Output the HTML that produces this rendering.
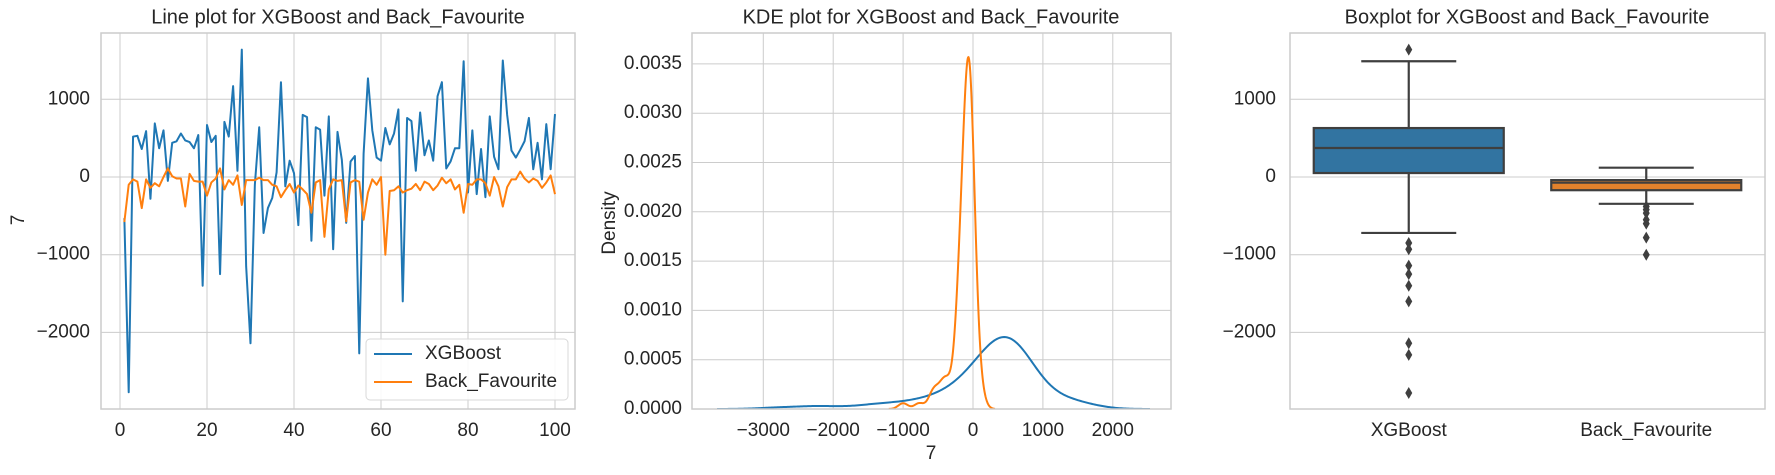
<!DOCTYPE html>
<html><head><meta charset="utf-8"><style>
html,body{margin:0;padding:0;background:#fff}
svg{display:block;font-family:"Liberation Sans",sans-serif}
</style></head><body>
<svg id="fig" width="1775" height="475" viewBox="0 0 1775 475" xmlns="http://www.w3.org/2000/svg"></svg>
<script>
const xgb=[-530,-2770,520,530,360,590,-280,690,370,600,-50,440,460,560,470,450,370,540,-1400,670,450,530,-1250,710,520,1170,80,1640,-1150,-2140,-100,640,-720,-400,-270,60,1220,-120,210,50,-620,800,770,-820,640,610,-240,780,-930,580,220,-590,200,270,-2270,300,1270,600,250,210,630,420,560,870,-1600,760,720,80,830,280,470,210,1040,1220,110,200,370,370,1490,-200,600,-220,360,-260,780,260,100,1500,800,340,250,350,460,760,100,440,-30,680,100,810];
const bf=[-580,-100,-30,-60,-400,-30,-140,-80,-120,0,110,10,-20,-20,-380,40,-50,-60,-60,-240,-70,-20,110,-160,-40,-100,20,-360,-40,-40,-40,-10,-40,-40,-100,-120,-260,-170,-90,-200,-110,-160,-220,-460,-70,-40,-770,-160,-30,-50,-40,-570,-70,-40,-60,-550,-200,-30,-100,0,-1000,-180,-170,-120,-200,-170,-150,-90,-170,-60,-90,-170,-110,-10,-80,-30,-160,-100,-460,-90,-100,-30,-30,-80,-240,0,-120,-380,-130,-30,-30,70,-20,-70,-20,-50,-140,-70,20,-220];
const seriesNames=["XGBoost","Back_Favourite"];
const lineXTicks=[0,20,40,60,80,100];
const valueTicks=[-2000,-1000,0,1000];
const kdeXTicks=[-3000,-2000,-1000,0,1000,2000];
const kdeYTicks=[0,0.0005,0.001,0.0015,0.002,0.0025,0.003,0.0035];
const xgbBox={q1:51,med:373,q3:630,lo:-720,hi:1490};
const bfBox={q1:-170,med:-73,q3:-40,lo:-345,hi:120};
const xgbOut=[1640,-850,-930,-1140,-1250,-1400,-1600,-2140,-2290,-2780];
const bfOut=[-380,-420,-465,-550,-600,-780,-1000];

const NS="http://www.w3.org/2000/svg";
const svg=document.getElementById('fig');
const BLUE="#1f77b4",ORANGE="#ff7f0e",GRID="#cccccc",TXT="#262626";
const FS=19,TFS=20;
function mk(tag,attrs,parent){const e=document.createElementNS(NS,tag);for(const k in attrs)e.setAttribute(k,attrs[k]);(parent||svg).appendChild(e);return e;}
function txt(s,x,y,anchor,size,parent){const t=mk('text',{x:x,y:y,'text-anchor':anchor,'font-size':size,fill:TXT,'dominant-baseline':'middle'},parent);t.textContent=s;return t;}
function fmt(v,d){return (v<0?'\u2212':'')+Math.abs(v).toFixed(d);}

const vY=v=>177-v*0.0777;
// ---------- Panel 1 ----------
const P1={l:101,r:575,t:33,b:409};
const lx=i=>120+i*4.35;
const g1=mk('g',{});


lineXTicks.forEach(t=>{mk('line',{x1:lx(t),x2:lx(t),y1:P1.t,y2:P1.b,stroke:GRID,'stroke-width':1},g1);
 const l=txt(String(t),lx(t),431,'middle',FS,g1);});
valueTicks.forEach(v=>{mk('line',{x1:P1.l,x2:P1.r,y1:vY(v),y2:vY(v),stroke:GRID,'stroke-width':1},g1);
 const l=txt(fmt(v,0),90,vY(v),'end',FS,g1);});
[[xgb,BLUE,'xgboost-line'],[bf,ORANGE,'back-favourite-line']].forEach(([d,c,n])=>{
 const p=mk('polyline',{points:d.map((v,i)=>lx(i+1)+','+vY(v)).join(' '),fill:'none',stroke:c,'stroke-width':2,'stroke-linejoin':'round'},g1);
 });
mk('rect',{x:P1.l,y:P1.t,width:P1.r-P1.l,height:P1.b-P1.t,fill:'none',stroke:GRID,'stroke-width':1.5},g1);
const t1=txt('Line plot for XGBoost and Back_Favourite',338,18,'middle',TFS,g1);
const yl1=txt('7',0,0,'middle',FS,g1);yl1.setAttribute('transform','translate(19,220) rotate(-90)');
const leg=mk('g',{},g1);
mk('rect',{x:366,y:339,width:202,height:61,rx:4,fill:'#fff','fill-opacity':0.85,stroke:'#d8d8d8'},leg);
seriesNames.forEach((n,i)=>{const y=354+i*28;
 mk('line',{x1:374,x2:412,y1:y,y2:y,stroke:i?ORANGE:BLUE,'stroke-width':2},leg);
 const e=txt(n,425,y,'start',FS,leg);});

// ---------- Panel 2 (KDE) ----------
const P2={l:692,r:1171,t:33,b:409};
const kx=v=>973+v*0.0699;
const ky=d=>409-d*98600;
const g2=mk('g',{});


kdeXTicks.forEach(t=>{mk('line',{x1:kx(t),x2:kx(t),y1:P2.t,y2:P2.b,stroke:GRID},g2);
 const l=txt(fmt(t,0),kx(t),431,'middle',FS,g2);});
kdeYTicks.forEach(t=>{mk('line',{x1:P2.l,x2:P2.r,y1:ky(t),y2:ky(t),stroke:GRID},g2);
 const l=txt(t.toFixed(4),682,ky(t),'end',FS,g2);});
function kde(d){const n=d.length,m=d.reduce((a,b)=>a+b)/n;const sd=Math.sqrt(d.reduce((a,b)=>a+(b-m)*(b-m),0)/(n-1));
 const bw=sd*Math.pow(n,-0.2);const lo=Math.min(...d)-3*bw,hi=Math.max(...d)+3*bw;const pts=[];
 for(let k=0;k<=300;k++){const x=lo+(hi-lo)*k/300;let s=0;for(const v of d){const z=(x-v)/bw;s+=Math.exp(-0.5*z*z);}pts.push([x,s/(n*bw*Math.sqrt(2*Math.PI))]);}return pts;}
const cp=mk('clipPath',{id:'c2'},g2);
mk('rect',{x:P2.l,y:P2.t,width:P2.r-P2.l,height:P2.b-P2.t},cp);
[[xgb,BLUE,'xgboost-kde'],[bf,ORANGE,'back-favourite-kde']].forEach(([d,c,n])=>{
 const p=mk('polyline',{points:kde(d).map(q=>kx(q[0])+','+ky(q[1])).join(' '),fill:'none',stroke:c,'stroke-width':2,'clip-path':'url(#c2)'},g2);
 });
mk('rect',{x:P2.l,y:P2.t,width:P2.r-P2.l,height:P2.b-P2.t,fill:'none',stroke:GRID,'stroke-width':1.5},g2);
const t2=txt('KDE plot for XGBoost and Back_Favourite',931,18,'middle',TFS,g2);
const yl2=txt('Density',0,0,'middle',FS,g2);yl2.setAttribute('transform','translate(610,223) rotate(-90)');
const xl2=txt('7',931,454,'middle',FS,g2);

// ---------- Panel 3 (Boxplot) ----------
const P3={l:1290,r:1765,t:33,b:409};
const cx=i=>P3.l+(P3.r-P3.l)*(i+0.5)/2;
const g3=mk('g',{});


valueTicks.forEach(v=>{mk('line',{x1:P3.l,x2:P3.r,y1:vY(v),y2:vY(v),stroke:GRID},g3);
 const l=txt(fmt(v,0),1276,vY(v),'end',FS,g3);});
const EDGE="#3f3f3f";
[[xgbBox,xgbOut,'#3274a1'],[bfBox,bfOut,'#e1812c']].forEach(([b,o,f],i)=>{
 const c=cx(i),w=190,g=mk('g',{},g3);
 
 mk('line',{x1:c,x2:c,y1:vY(b.hi),y2:vY(b.q3),stroke:EDGE,'stroke-width':2.2},g);
 mk('line',{x1:c,x2:c,y1:vY(b.q1),y2:vY(b.lo),stroke:EDGE,'stroke-width':2.2},g);
 mk('line',{x1:c-w/4,x2:c+w/4,y1:vY(b.hi),y2:vY(b.hi),stroke:EDGE,'stroke-width':2.2},g);
 mk('line',{x1:c-w/4,x2:c+w/4,y1:vY(b.lo),y2:vY(b.lo),stroke:EDGE,'stroke-width':2.2},g);
 mk('rect',{x:c-w/2,y:vY(b.q3),width:w,height:vY(b.q1)-vY(b.q3),fill:f,stroke:EDGE,'stroke-width':2.2},g);
 mk('line',{x1:c-w/2,x2:c+w/2,y1:vY(b.med),y2:vY(b.med),stroke:EDGE,'stroke-width':2.2},g);
 o.forEach(v=>{const y=vY(v);const d=mk('path',{d:`M${c} ${y-6}L${c+3.5} ${y}L${c} ${y+6}L${c-3.5} ${y}Z`,fill:EDGE},g);
  });
 const l=txt(seriesNames[i],c,431,'middle',FS,g3);
});
mk('rect',{x:P3.l,y:P3.t,width:P3.r-P3.l,height:P3.b-P3.t,fill:'none',stroke:GRID,'stroke-width':1.5},g3);
const t3=txt('Boxplot for XGBoost and Back_Favourite',1527,18,'middle',TFS,g3);
</script>
</body></html>
